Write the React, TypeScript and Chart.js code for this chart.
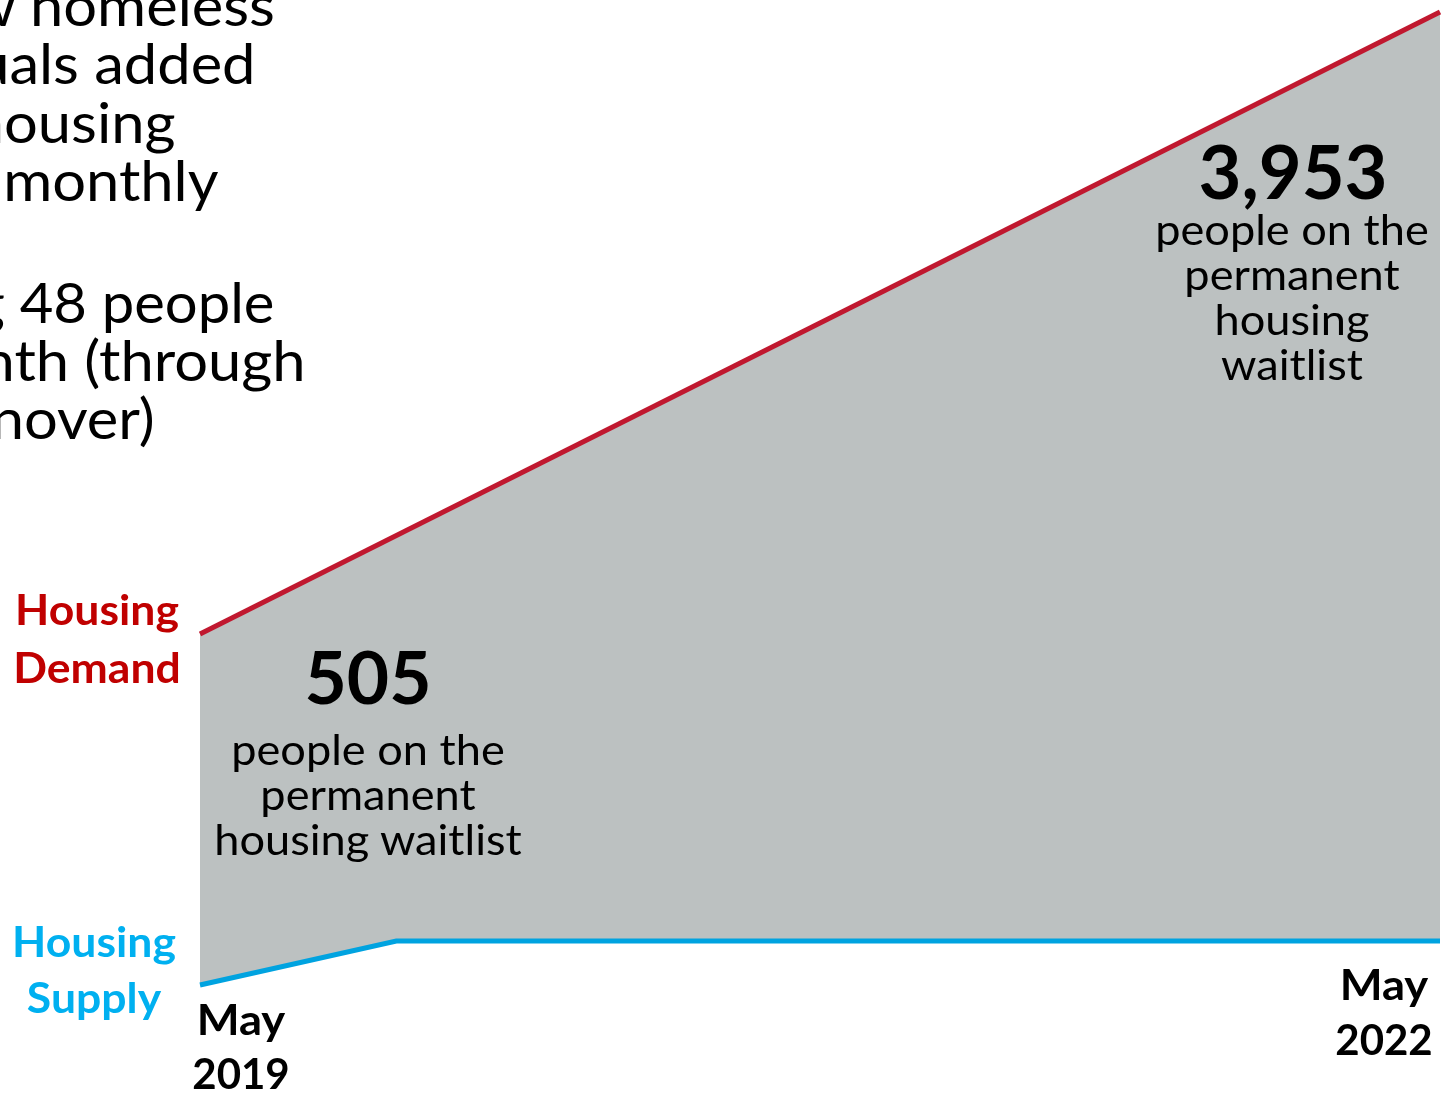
import React, { useEffect, useRef } from "react";
import { Chart, registerables } from "chart.js";

Chart.register(...registerables);

// Timeline in months since May 2019 (May 2019 = 0, May 2022 = 36)
const demandMonths = [0, 36];
// Demand level (index, arbitrary units)
const demandLevel = [459, 1081];
const supplyMonths = [0, 5.7, 36];
// Supply level (index, arbitrary units)
const supplyLevel = [108, 152, 152];

const waitlistStart = "505";
const waitlistEnd = "3,953";
const startLabel = ["May", "2019"];
const endLabel = ["May", "2022"];
const demandLabel = ["Housing", "Demand"];
const supplyLabel = ["Housing", "Supply"];
const waitlistTextStart = ["people on the", "permanent", "housing waitlist"];
const waitlistTextEnd = ["people on the", "permanent", "housing", "waitlist"];
const noteLines1 = ["~100 new homeless", "individuals added", "to the housing", "waitlist monthly"];
const noteLines2 = ["Housing 48 people", "per month (through", "turnover)"];

const FONT = "Lato, 'Open Sans', sans-serif";
const W = 1443;
const H = 1093;

type LineProps = {
  text: string;
  baseline: number;
  size: number;
  weight?: number;
  color?: string;
  cx?: number;
  rx?: number;
  sx?: number;
};

function TextLine({ text, baseline, size, weight = 400, color = "#000", cx, rx, sx = 1 }: LineProps) {
  const style: React.CSSProperties = {
    position: "absolute",
    top: baseline - 0.987 * size,
    fontFamily: FONT,
    fontSize: size,
    fontWeight: weight,
    lineHeight: `${1.2 * size}px`,
    color,
    whiteSpace: "nowrap",
  };
  if (cx !== undefined) {
    style.left = cx;
    style.transform = `translateX(-50%) scaleX(${sx})`;
    style.transformOrigin = "50% 0";
  } else if (rx !== undefined) {
    style.right = W - rx;
    style.transform = `scaleX(${sx})`;
    style.transformOrigin = "100% 0";
  }
  return <div style={style}>{text}</div>;
}

export default function App() {
  const ref = useRef<HTMLCanvasElement | null>(null);

  useEffect(() => {
    document.body.style.margin = "0";
    const canvas = ref.current;
    if (!canvas) return;
    const chart = new Chart(canvas, {
      type: "line",
      data: {
        datasets: [
          {
            label: "Housing Demand",
            data: demandMonths.map((m, i) => ({ x: m, y: demandLevel[i] })),
            borderColor: "#C0182F",
            borderWidth: 5,
            pointRadius: 0,
            fill: "+1",
            backgroundColor: "rgb(188,193,193)",
            tension: 0,
          },
          {
            label: "Housing Supply",
            data: supplyMonths.map((m, i) => ({ x: m, y: supplyLevel[i] })),
            borderColor: "#00A3E0",
            borderWidth: 5,
            pointRadius: 0,
            fill: false,
            tension: 0,
          },
        ],
      },
      options: {
        responsive: false,
        animation: false,
        devicePixelRatio: 1,
        layout: { padding: { left: 200, right: 3, top: 0, bottom: 0 } },
        scales: {
          x: { type: "linear", min: 0, max: 36, display: false },
          y: { type: "linear", min: 0, max: 1093, display: false },
        },
        plugins: {
          legend: { display: false },
          tooltip: { enabled: false },
          filler: { drawTime: "beforeDatasetsDraw" },
        },
        datasets: { line: { clip: false } },
      } as any,
    });
    return () => chart.destroy();
  }, []);

  return (
    <div
      style={{
        position: "fixed",
        left: 0,
        top: 0,
        width: W,
        height: H,
        overflow: "hidden",
        background: "#fff",
      }}
    >
      <canvas ref={ref} width={W} height={H} style={{ position: "absolute", left: 0, top: 0 }} />

      {noteLines1.map((t, i) => (
        <TextLine key={"a" + i} text={t} baseline={[26, 84, 143, 201][i]} size={56} sx={1.065} rx={[275, 256, 176, 218][i]} />
      ))}
      {noteLines2.map((t, i) => (
        <TextLine key={"b" + i} text={t} baseline={[323, 381, 439][i]} size={56} sx={i === 0 ? 1.035 : 1.065} rx={[274, 306, 155][i]} />
      ))}

      {demandLabel.map((t, i) => (
        <TextLine key={"d" + i} text={t} baseline={[625, 683][i]} size={42} sx={1.06} weight={700} color="#C00000" cx={97} />
      ))}
      {supplyLabel.map((t, i) => (
        <TextLine key={"s" + i} text={t} baseline={[957, 1013][i]} size={42} sx={1.06} weight={700} color="#00B0F0" cx={94} />
      ))}

      {startLabel.map((t, i) => (
        <TextLine key={"m" + i} text={t} baseline={[1035, 1089][i]} size={42} sx={i === 0 ? 1.08 : 1} weight={700} cx={241} />
      ))}
      {endLabel.map((t, i) => (
        <TextLine key={"n" + i} text={t} baseline={[1000, 1055][i]} size={42} sx={i === 0 ? 1.08 : 1} weight={700} cx={1384} />
      ))}

      <TextLine text={waitlistStart} baseline={705} size={73} weight={700} cx={368} />
      {waitlistTextStart.map((t, i) => (
        <TextLine key={"p" + i} text={t} baseline={765 + 45 * i} size={43} sx={1.05} cx={368} />
      ))}

      <TextLine text={waitlistEnd} baseline={200} size={74} weight={700} cx={1293} />
      {waitlistTextEnd.map((t, i) => (
        <TextLine key={"q" + i} text={t} baseline={245 + 45 * i} size={43} sx={1.05} cx={1292} />
      ))}
    </div>
  );
}
